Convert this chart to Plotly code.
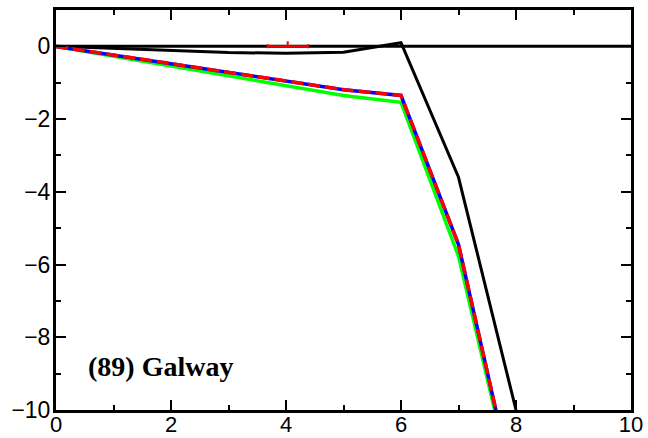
import plotly.graph_objects as go

# ---- data ----
x_vals = [0, 1, 2, 3, 4, 5, 6, 7, 8]
black_curve = [0, -0.06, -0.12, -0.17, -0.19, -0.16, 0.1, -3.6, -10.0]
blue_vals = [0, -0.24, -0.47, -0.71, -0.95, -1.19, -1.35, -5.45, -12.45]
red_vals = [0, -0.24, -0.47, -0.71, -0.95, -1.19, -1.35, -5.45, -12.45]
green_vals = [0, -0.27, -0.54, -0.81, -1.08, -1.35, -1.54, -5.77, -12.5]
zero_x = [0, 10]
zero_y = [0, 0]
obs_x = [4.03]
obs_y = [0.0]
obs_xerr = [0.35]
obs_yerr_up = [0.14]
panel_label = "(89) Galway"
x_ticks = [0, 2, 4, 6, 8, 10]
y_ticks = [0, -2, -4, -6, -8, -10]

fig = go.Figure()
fig.add_trace(go.Scatter(x=zero_x, y=zero_y, mode="lines",
                         line=dict(color="black", width=3), showlegend=False))
fig.add_trace(go.Scatter(x=x_vals, y=black_curve, mode="lines",
                         line=dict(color="black", width=3), showlegend=False))
fig.add_trace(go.Scatter(x=x_vals, y=green_vals, mode="lines",
                         line=dict(color="rgb(0,255,0)", width=3.5), showlegend=False))
fig.add_trace(go.Scatter(x=x_vals, y=blue_vals, mode="lines",
                         line=dict(color="rgb(0,0,255)", width=3.5), showlegend=False))
fig.add_trace(go.Scatter(x=x_vals, y=red_vals, mode="lines",
                         line=dict(color="rgb(255,0,0)", width=3.5, dash="12px,5px"),
                         showlegend=False))
fig.add_trace(go.Scatter(x=obs_x, y=obs_y, mode="markers",
                         marker=dict(size=1, color="red", opacity=0),
                         error_x=dict(type="data", array=obs_xerr, color="red",
                                      thickness=2, width=2),
                         error_y=dict(type="data", symmetric=False, array=obs_yerr_up,
                                      arrayminus=[0], color="red", thickness=2, width=0),
                         showlegend=False))

fig.add_annotation(x=0.53, y=-8.8, xref="x", yref="y", text="<b>" + panel_label + "</b>",
                   showarrow=False, xanchor="left", yanchor="middle",
                   font=dict(family="Liberation Serif", size=28, color="black"))

axis_common = dict(showgrid=False, zeroline=False, showline=True, linecolor="black",
                   linewidth=3, mirror="allticks", ticks="inside", ticklen=10,
                   tickwidth=1.5, tickcolor="black", automargin=False)

fig.update_xaxes(range=[0, 10], tickvals=x_ticks, ticktext=[str(v) for v in x_ticks],
                 ticklabelstandoff=-7,
                 tickfont=dict(family="Liberation Sans", size=22, color="black"),
                 minor=dict(dtick=1, tick0=0, ticks="inside", ticklen=5, tickwidth=1.5,
                            tickcolor="black"),
                 **axis_common)
fig.update_yaxes(range=[-10, 1], tickvals=y_ticks,
                 ticktext=[("\u2212" + str(-v)) if v < 0 else str(v) for v in y_ticks],
                 ticklabelstandoff=-2,
                 tickfont=dict(family="Liberation Sans", size=23, color="black"),
                 minor=dict(dtick=1, tick0=0, ticks="inside", ticklen=5, tickwidth=1.5,
                            tickcolor="black"),
                 **axis_common)

fig.update_layout(width=648, height=438, margin=dict(l=56, r=17, t=10, b=28),
                  plot_bgcolor="white", paper_bgcolor="white", showlegend=False)

fig.write_html("out.html", config={"displayModeBar": False},
               post_script="document.body.style.margin='0';document.body.style.overflow='hidden';")
